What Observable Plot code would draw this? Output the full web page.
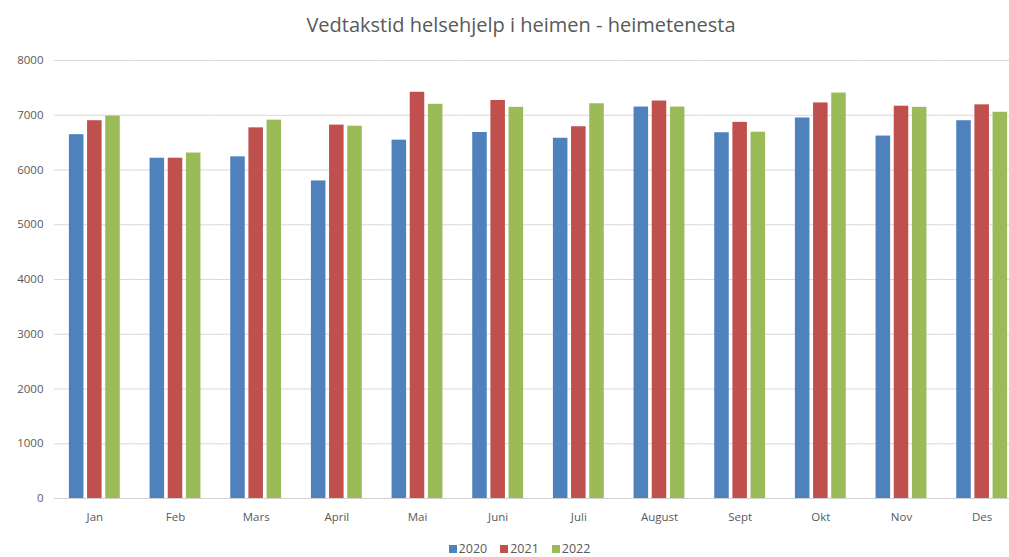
<!DOCTYPE html>
<html><head><meta charset="utf-8">
<script src="https://cdn.jsdelivr.net/npm/d3@7"></script>
<script src="https://cdn.jsdelivr.net/npm/@observablehq/plot@0.6"></script>
<style>
body{margin:0;background:#fff;font-family:"Open Sans",Lato,sans-serif;width:1009px;height:557px;overflow:hidden;}
#title{height:45px;line-height:50px;text-align:center;font-size:20px;color:#595959;padding-left:33px;box-sizing:border-box;width:1009px;}
#chart svg{display:block;}
#legend{display:flex;justify-content:center;align-items:center;gap:13px;font-size:12.5px;line-height:16px;color:#595959;padding-left:30px;height:16px;margin-top:6px;}
#legend .item{display:flex;align-items:center;gap:2px;}
#legend .sw{width:8px;height:8px;display:inline-block;}
</style></head><body>
<div id="title">Vedtakstid helsehjelp i heimen - heimetenesta</div>
<div id="chart"></div>
<div id="legend"></div>
<script>
const months = ["Jan","Feb","Mars","April","Mai","Juni","Juli","August","Sept","Okt","Nov","Des"];
const years = ["2020","2021","2022"];
const values2020 = [6645,6215,6240,5800,6545,6685,6580,7150,6680,6950,6620,6900];
const values2021 = [6900,6215,6770,6820,7420,7270,6790,7260,6870,7225,7165,7190];
const values2022 = [6985,6310,6910,6800,7200,7145,7210,7150,6690,7405,7145,7055];
const yTicks = [0,1000,2000,3000,4000,5000,6000,7000,8000];
const colors = ["#4F81BD","#C0504D","#9BBB59"];

const series = [values2020, values2021, values2022];
const data = months.flatMap((m, i) => years.map((y, j) => ({month: m, year: y, value: series[j][i]})));

const chart = Plot.plot({
  width: 1009,
  height: 490,
  marginLeft: 54,
  marginRight: 0,
  marginTop: 15,
  marginBottom: 37,
  style: {fontFamily: "'Open Sans', Lato, sans-serif", fontSize: "11.5px", color: "#595959", background: "#fff"},
  fx: {domain: months, padding: 0, range: [54, 1022], round: false, label: null},
  x: {domain: years, paddingInner: 0.2, paddingOuter: 0.82, round: false, axis: null},
  y: {domain: [0, 8000]},
  color: {domain: years, range: colors},
  marks: [
    Plot.gridY(yTicks, {stroke: "#d9d9d9", strokeOpacity: 1}),
    Plot.ruleY([0], {stroke: "#d0d0d0"}),
    Plot.axisY(yTicks, {tickSize: 0, tickPadding: 11, label: null, tickFormat: "d", fill: "#595959"}),
    Plot.axisFx({anchor: "bottom", tickSize: 0, tickPadding: 14, label: null, fill: "#595959"}),
    Plot.barY(data, {fx: "month", x: "year", y: "value", fill: "year"})
  ]
});
document.getElementById("chart").appendChild(chart);

const legend = document.getElementById("legend");
years.forEach((y, i) => {
  const item = document.createElement("span");
  item.className = "item";
  const sw = document.createElement("span");
  sw.className = "sw";
  sw.style.background = colors[i];
  item.appendChild(sw);
  item.appendChild(document.createTextNode(y));
  legend.appendChild(item);
});
</script>
</body></html>
